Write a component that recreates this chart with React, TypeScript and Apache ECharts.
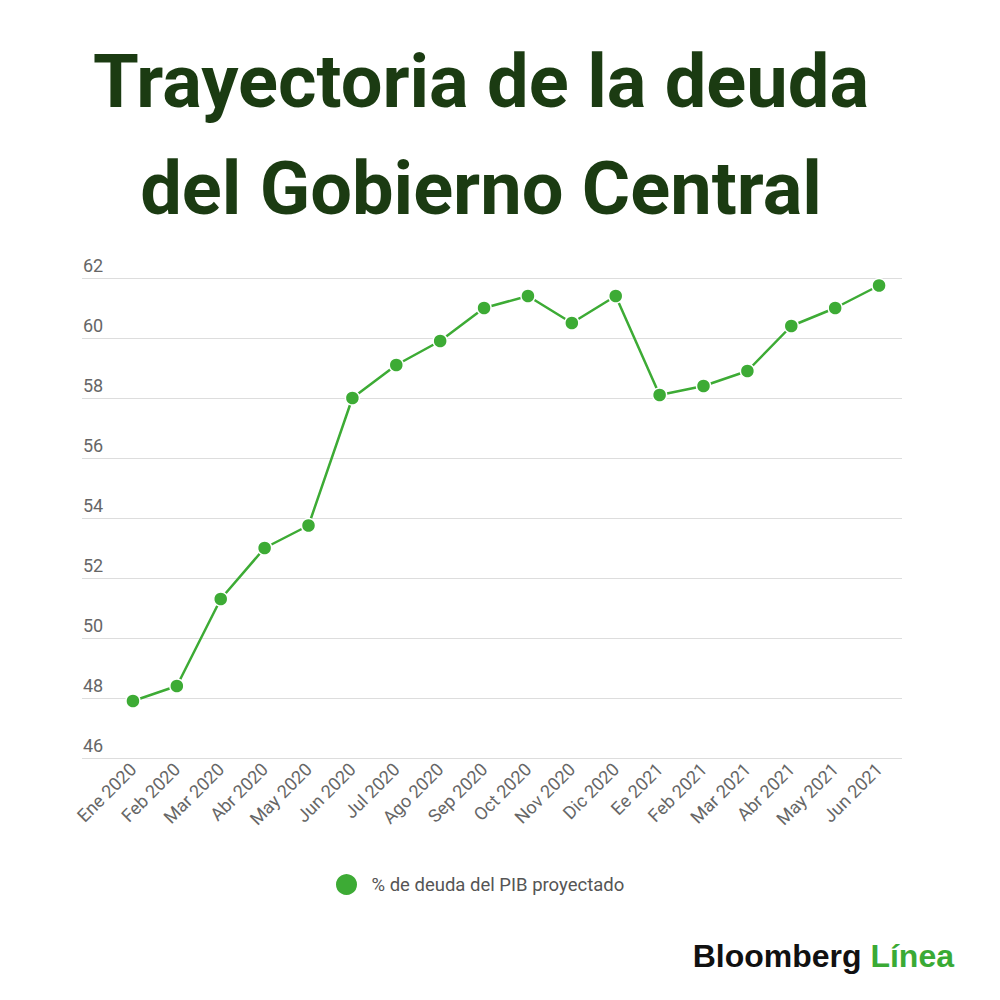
import React, { useEffect, useRef } from "react";
import * as echarts from "echarts";

const categories = [
  "Ene 2020", "Feb 2020", "Mar 2020", "Abr 2020", "May 2020", "Jun 2020",
  "Jul 2020", "Ago 2020", "Sep 2020", "Oct 2020", "Nov 2020", "Dic 2020",
  "Ee 2021", "Feb 2021", "Mar 2021", "Abr 2021", "May 2021", "Jun 2021",
];
const debtValues = [
  47.9, 48.4, 51.3, 53.0, 53.75, 58.0, 59.1, 59.9, 61.0, 61.4, 60.5, 61.4,
  58.1, 58.4, 58.9, 60.4, 61.0, 61.75,
];
const seriesName = "% de deuda del PIB proyectado";
const titleLines = ["Trayectoria de la deuda", "del Gobierno Central"];
const yMin = 46;
const yMax = 62;
const yStep = 2;

const GREEN = "#3dab35";
const TITLE_GREEN = "#1b3b12";

export default function App() {
  const ref = useRef<HTMLDivElement>(null);
  useEffect(() => {
    if (!ref.current) return;
    const chart = echarts.init(ref.current, null, { renderer: "svg" });
    chart.setOption({
      animation: false,
      backgroundColor: "#ffffff",
      textStyle: { fontFamily: "Roboto" },
      grid: [
        { left: 111, right: 99, top: 278, bottom: 242 },
        { left: 82, right: 98, top: 278, bottom: 242 },
      ],
      xAxis: [
        {
          type: "category",
          gridIndex: 0,
          data: categories,
          boundaryGap: true,
          axisLine: { show: false },
          axisTick: { show: false },
          axisLabel: {
            rotate: 45,
            color: "#666666",
            fontSize: 18,
            fontFamily: "Roboto",
            margin: 8,
            interval: 0,
          },
        },
        { type: "value", gridIndex: 1, show: false, min: 0, max: 1 },
      ],
      yAxis: [
        { type: "value", gridIndex: 0, min: yMin, max: yMax, interval: yStep, show: false },
        {
          type: "value",
          gridIndex: 1,
          min: yMin,
          max: yMax,
          interval: yStep,
          axisLine: { show: false },
          axisTick: { show: false },
          splitLine: { show: true, lineStyle: { color: "#dddddd", width: 1 } },
          axisLabel: {
            inside: true,
            margin: 1,
            color: "#666666",
            fontSize: 18,
            fontFamily: "Roboto",
            verticalAlign: "bottom",
            padding: [0, 0, 4, 0],
          },
        },
      ],
      legend: {
        left: 334,
        top: 872,
        padding: 0,
        itemWidth: 40,
        itemHeight: 23,
        icon: "circle",
        data: [seriesName],
        textStyle: { color: "#555555", fontSize: 18.5, fontFamily: "Roboto" },
      },
      series: [
        {
          name: seriesName,
          type: "line",
          xAxisIndex: 0,
          yAxisIndex: 0,
          data: debtValues,
          symbol: "circle",
          symbolSize: 14,
          lineStyle: { color: GREEN, width: 2.5 },
          itemStyle: { color: GREEN, borderColor: "#ffffff", borderWidth: 1.5 },
          z: 5,
        },
      ],
      graphic: [
        {
          type: "text",
          x: 481,
          y: 81,
          style: {
            text: titleLines[0],
            align: "center",
            verticalAlign: "middle",
            fontSize: 74,
            fontWeight: "bold",
            fontFamily: "Roboto",
            fill: TITLE_GREEN,
          },
        },
        {
          type: "text",
          x: 481,
          y: 188,
          style: {
            text: titleLines[1],
            align: "center",
            verticalAlign: "middle",
            fontSize: 74,
            fontWeight: "bold",
            fontFamily: "Roboto",
            fill: TITLE_GREEN,
          },
        },
        {
          type: "text",
          x: 954,
          y: 956,
          style: {
            text: "{a|Bloomberg} {b|Línea}",
            align: "right",
            verticalAlign: "middle",
            rich: {
              a: {
                fontSize: 32,
                fontWeight: "bold",
                fontFamily: "Liberation Sans",
                fill: "#111111",
                color: "#111111",
              },
              b: {
                fontSize: 32,
                fontWeight: "bold",
                fontFamily: "Liberation Sans",
                fill: "#3aaa35",
                color: "#3aaa35",
              },
            },
            fontSize: 32,
            fontWeight: "bold",
            fontFamily: "Liberation Sans",
          },
        },
      ],
    });
    return () => chart.dispose();
  }, []);
  return (
    <div
      ref={ref}
      style={{ position: "fixed", left: 0, top: 0, width: 1000, height: 1000, background: "#fff" }}
    />
  );
}
